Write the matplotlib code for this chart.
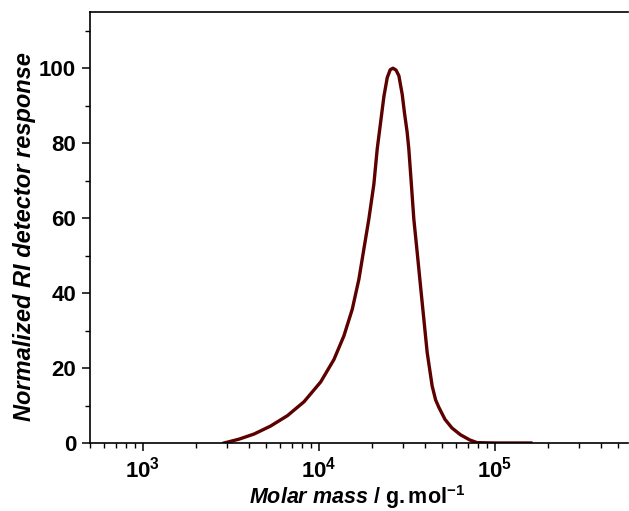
import matplotlib
matplotlib.use('Agg')
import matplotlib.pyplot as plt
import matplotlib.ticker as mticker
import numpy as np

plt.rcParams['font.family'] = 'Liberation Sans'
plt.rcParams['mathtext.fontset'] = 'custom'
plt.rcParams['mathtext.rm'] = 'Liberation Sans'
plt.rcParams['mathtext.bf'] = 'Liberation Sans:bold'
plt.rcParams['mathtext.it'] = 'Liberation Sans:italic'
plt.rcParams['mathtext.bfit'] = 'Liberation Sans:italic:bold'

# values (molar mass in g/mol, normalized RI response)
molar_mass = [2890, 3500, 4280, 5300, 6620, 8220, 10230, 12170, 13860,
              15460, 16860, 18000, 19210, 20500, 21430, 22390, 23390,
              24430, 25400, 26330, 27400, 28440, 29720, 30620, 31680,
              32390, 33500, 34580, 36140, 37750, 39440, 41200, 43970,
              46000, 48000, 52000, 57000, 63650, 72000, 79150, 100000,
              130000, 160000]
ri_response = [0.0, 1.0, 2.4, 4.5, 7.3, 11.0, 16.3, 22.3, 28.6,
               35.7, 43.7, 51.8, 59.8, 69.0, 78.5, 85.5, 92.5,
               97.5, 99.6, 100.0, 99.5, 98.0, 93.0, 88.0, 83.0,
               78.5, 69.0, 59.8, 50.9, 41.9, 33.0, 24.1, 15.2,
               11.5, 9.5, 6.3, 4.0, 2.2, 0.8, 0.1, 0.0,
               0.0, 0.0]

fig = plt.figure(figsize=(6.29, 5.11), dpi=100)
ax = fig.add_axes([90/629, 68/511, 538/629, 431/511])

ax.plot(molar_mass, ri_response, color='#5c0000', lw=2.4,
        solid_joinstyle='round')

ax.set_xscale('log')
ax.set_xlim(500, 5.7e5)
ax.set_ylim(0, 115)

ax.yaxis.set_major_locator(mticker.MultipleLocator(20))
ax.yaxis.set_minor_locator(mticker.MultipleLocator(10))
ax.xaxis.set_major_locator(mticker.LogLocator(base=10, numticks=10))
ax.xaxis.set_minor_locator(mticker.LogLocator(base=10, subs=np.arange(2, 10), numticks=20))
ax.xaxis.set_minor_formatter(mticker.NullFormatter())
ax.xaxis.set_major_formatter(mticker.FuncFormatter(
    lambda v, p: r'$\mathbf{10^{%d}}$' % int(round(np.log10(v)))))

ax.spines['right'].set_visible(False)
for s in ['top', 'left', 'bottom']:
    ax.spines[s].set_linewidth(1.2)

ax.tick_params(which='major', direction='out', length=6, width=1.1,
               labelsize=16, pad=4)
ax.tick_params(which='minor', direction='out', length=3.5, width=1.0)
ax.tick_params(axis='x', which='major', pad=4)
for lab in ax.get_yticklabels():
    lab.set_fontweight('bold')

ax.set_ylabel('Normalized RI detector response', fontsize=17,
              fontweight='bold', style='italic')
ax.yaxis.set_label_coords(-0.100, 0.478)
ax.set_xlabel(r'$\mathbfit{Molar\ mass}\mathbf{\ /\ g.mol^{-1}}$',
              fontsize=15.5)
ax.xaxis.set_label_coords(0.497, -0.093)

fig.savefig('out.png', dpi=100)
